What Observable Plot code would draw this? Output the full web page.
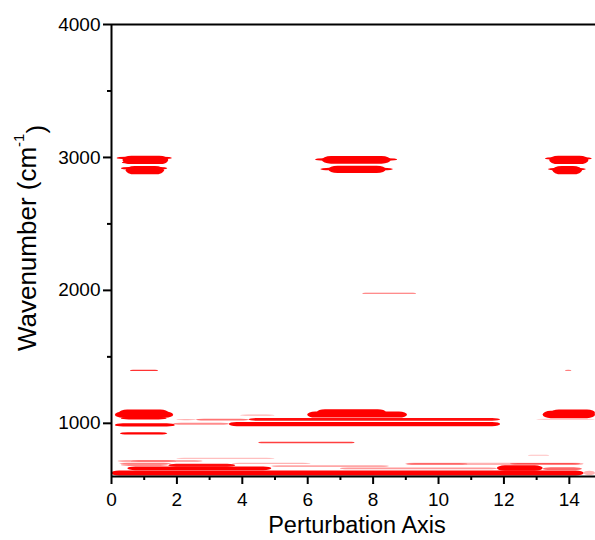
<!DOCTYPE html>
<html><head><meta charset="utf-8">
<script src="https://cdn.jsdelivr.net/npm/d3@7"></script>
<script src="https://cdn.jsdelivr.net/npm/@observablehq/plot@0.6"></script>
<style>body{margin:0;background:#fff}</style>
</head><body><div id="chart"></div>
<script>
// Tick values
const xMajorTicks = [0, 2, 4, 6, 8, 10, 12, 14];
const xMinorTicks = [1, 3, 5, 7, 9, 11, 13];
const yMajorTicks = [1000, 2000, 3000, 4000];
const yMinorTicks = [1500, 2500, 3500];

// Streaks: [perturbation start, perturbation end, wavenumber low, wavenumber high, intensity]
const peaks3000 = [
  [0.35, 1.75, 2946, 3009, 1], [0.17, 1.86, 2983, 3002, 1], [0.33, 1.70, 2950, 2966, 1],
  [0.45, 1.62, 2869, 2931, 1], [0.30, 1.72, 2905, 2925, 1],
  [6.45, 8.55, 2949, 3007, 1], [6.24, 8.75, 2972, 2990, 1],
  [6.65, 8.40, 2879, 2934, 1], [6.40, 8.62, 2900, 2918, 1],
  [13.40, 14.60, 2946, 3009, 1], [13.27, 14.70, 2980, 2998, 1],
  [13.50, 14.40, 2869, 2931, 1], [13.36, 14.52, 2900, 2918, 1]
];
const peaks1000 = [
  [0.25, 1.75, 1050, 1100, 1], [0.12, 1.90, 1038, 1085, 1], [0.30, 1.70, 1025, 1045, 1],
  [0.12, 1.95, 972, 997, 1], [0.27, 1.72, 912, 930, 1],
  [6.30, 8.40, 1060, 1102, 1], [6.00, 9.05, 1040, 1085, 1],
  [4.20, 11.90, 1016, 1036, 0.95], [2.60, 4.20, 1018, 1030, 0.55], [2.00, 2.60, 1020, 1028, 0.3],
  [3.60, 11.90, 975, 1007, 1], [1.90, 3.60, 985, 1000, 0.45],
  [3.95, 5.00, 1053, 1062, 0.3],
  [13.20, 14.80, 1035, 1090, 1], [13.45, 14.80, 1050, 1100, 1], [13.00, 14.80, 1022, 1030, 0.2]
];
const thinLines = [
  [4.50, 7.45, 847, 857, 0.75],
  [7.68, 9.33, 1970, 1979, 0.6],
  [0.58, 1.44, 1390, 1399, 0.8],
  [13.88, 14.08, 1390, 1399, 0.5],
  [12.75, 13.40, 752, 760, 0.25]
];
const bands600 = [
  [2.00, 5.00, 728, 737, 0.25], [0.20, 2.80, 708, 719, 0.45], [0.60, 2.00, 709, 716, 0.6],
  [0.25, 1.85, 690, 700, 0.5], [3.70, 6.10, 690, 699, 0.3],
  [1.75, 3.80, 670, 692, 0.95], [0.30, 1.75, 676, 690, 0.45],
  [0.50, 4.90, 644, 672, 1], [4.90, 8.50, 668, 681, 0.35],
  [0.00, 14.45, 604, 642, 1], [14.45, 14.80, 606, 640, 0.3],
  [11.80, 13.20, 640, 680, 1], [13.20, 14.40, 645, 665, 0.6],
  [9.00, 14.45, 683, 700, 0.3], [9.05, 10.90, 686, 696, 0.55], [12.20, 14.35, 686, 698, 0.55],
  [7.00, 11.80, 650, 664, 0.4]
];

const rows = arr => arr.map(([x1, x2, y1, y2, v]) => ({x1, x2, y1, y2, v}));
const font = "Arial, 'Liberation Sans', sans-serif";
const rectOpts = {x1: "x1", x2: "x2", y1: "y1", y2: "y2", fill: "#ff0000", fillOpacity: "v", clip: true};

const chart = Plot.plot({
  width: 595, height: 540,
  marginLeft: 111, marginRight: 0, marginTop: 24, marginBottom: 64,
  x: {domain: [0, 14.8]},
  y: {domain: [600, 4000]},
  style: {fontFamily: font, fontSize: "19px", color: "#000", background: "#fff"},
  marks: [
    Plot.rect(rows(peaks3000), {...rectOpts, rx: 9}),
    Plot.rect(rows(peaks1000), {...rectOpts, rx: 8}),
    Plot.rect(rows(bands600), {...rectOpts, rx: 8}),
    Plot.rect(rows(thinLines), {...rectOpts, rx: 3}),
    Plot.axisX(xMajorTicks, {tickSize: 8, tickPadding: 8, strokeWidth: 2, fontSize: 19, label: null, tickFormat: d => String(d)}),
    Plot.axisX(xMinorTicks, {tickSize: 4, strokeWidth: 2, label: null, tickFormat: () => ""}),
    Plot.axisY(yMajorTicks, {tickSize: 8, tickPadding: 3, strokeWidth: 2, fontSize: 19, label: null, tickFormat: d => String(d)}),
    Plot.axisY(yMinorTicks, {tickSize: 4, strokeWidth: 2, label: null, tickFormat: () => ""}),
    Plot.ruleX([0], {strokeWidth: 2}),
    Plot.ruleY([600], {strokeWidth: 2}),
    Plot.ruleY([4000], {strokeWidth: 2})
  ]
});
document.getElementById("chart").appendChild(chart);

const svg = d3.select(chart);
svg.append("text")
  .attr("x", 357).attr("y", 533)
  .attr("text-anchor", "middle")
  .attr("font-family", font).attr("font-size", 23.5).attr("fill", "#000")
  .text("Perturbation Axis");
const yt = svg.append("text")
  .attr("transform", "translate(36,238) rotate(-90)")
  .attr("text-anchor", "middle")
  .attr("font-family", font).attr("font-size", 26).attr("fill", "#000");
yt.append("tspan").text("Wavenumber (cm");
yt.append("tspan").attr("font-size", 15).attr("dy", "-0.8em").text("-1");
yt.append("tspan").attr("dy", "0.8em").text(")");
</script>
</body></html>
